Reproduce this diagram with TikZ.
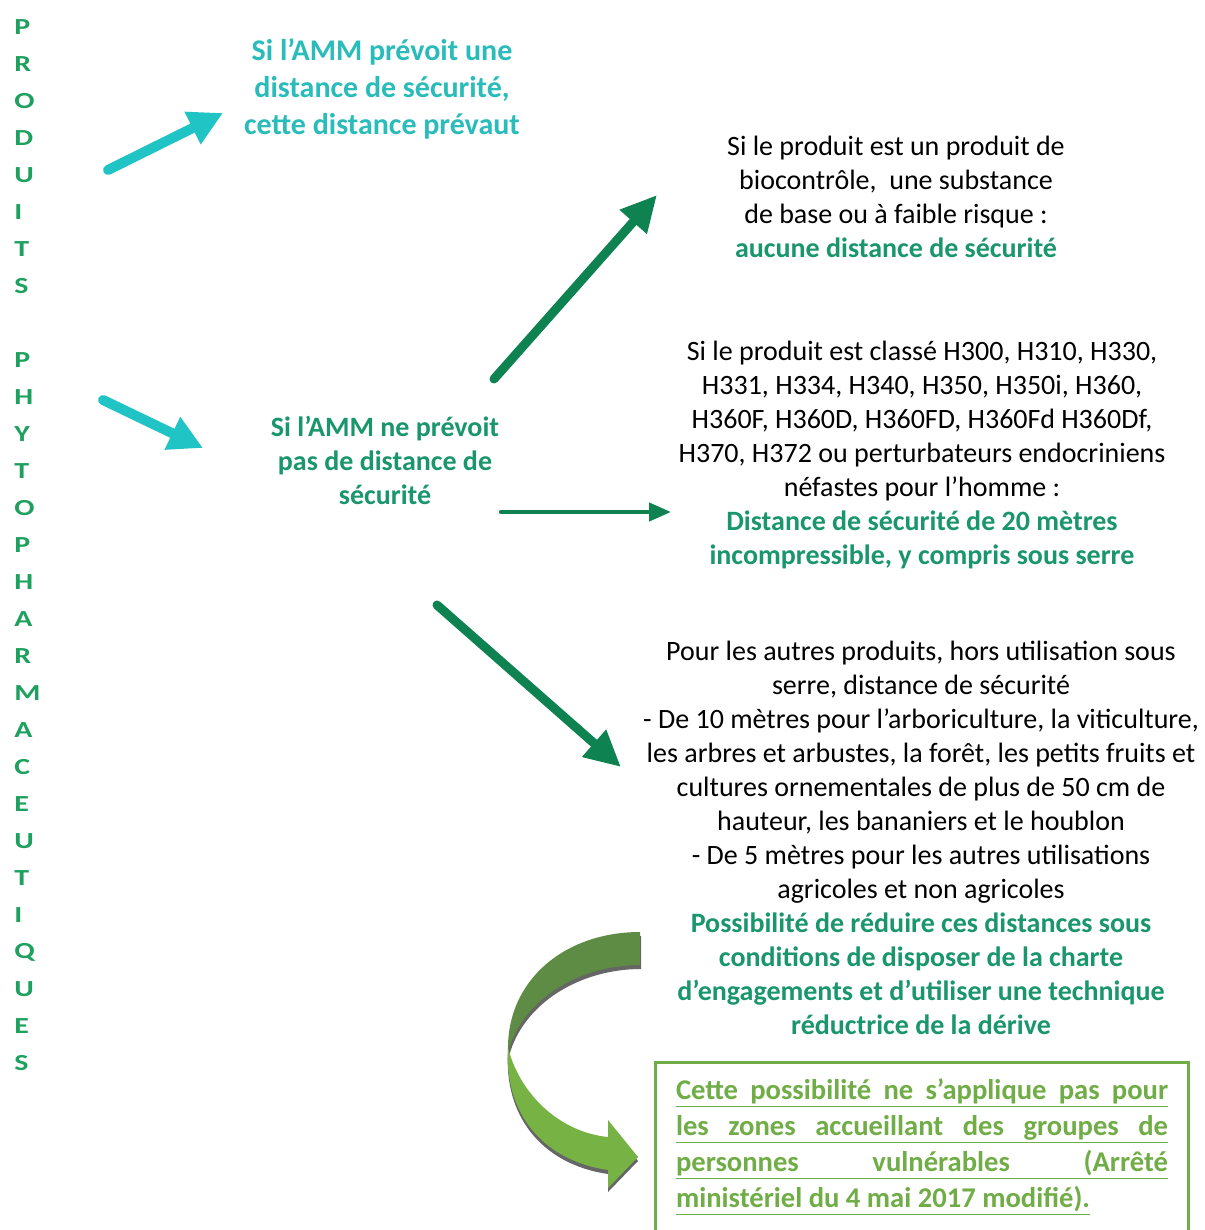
\documentclass[tikz,border=0pt]{standalone}
\usepackage{fontspec}
\setmainfont{Carlito}
\usepackage{xcolor}
\usetikzlibrary{arrows.meta,positioning}
\definecolor{phytoTeal}{RGB}{32,196,196}
\definecolor{phytoTealText}{RGB}{42,188,186}
\definecolor{phytoArrow}{RGB}{14,130,80}
\definecolor{phytoGreen}{RGB}{26,150,108}
\definecolor{phytoLetter}{RGB}{30,160,95}
\definecolor{phytoBox}{RGB}{112,173,71}
\definecolor{ribbonDark}{RGB}{94,140,68}
\definecolor{ribbonLight}{RGB}{118,178,68}
\newcommand{\VLetter}[1]{\scalebox{1.3}[1]{#1}}
\newcommand{\ULine}[1]{\leavevmode\vtop{\hbox{\raisebox{0pt}[\height][0pt]{#1}}\kern3pt\hrule height 0.9pt}}
\newcommand{\JLine}[1]{\ULine{\makebox[246pt][s]{#1}}}

\begin{document}
\begin{tikzpicture}[x=0.5pt,y=-0.5pt,
  letter/.style={anchor=west,inner sep=0pt,font=\fontsize{11.5}{12}\selectfont\bfseries,text=phytoLetter},
  plain/.style={align=center,inner sep=0pt,font=\fontsize{14}{17}\selectfont},
  tealarrow/.style={draw=phytoTeal,line width=5pt,line cap=round,-{Triangle[length=17pt,width=17pt]}},
  greenarrow/.style={draw=phytoArrow,line width=4.5pt,line cap=round,-{Triangle[length=18pt,width=17pt]}},
  thinarrow/.style={draw=phytoArrow,line width=2.2pt,line cap=round,-{Triangle[length=11pt,width=9pt]}}]
\useasboundingbox[fill=white] (0,0) rectangle (1204,1230);

\foreach \l [count=\i from 0] in {P,R,O,D,U,I,T,S}
  \node[letter] (p\i) at (14,27+37*\i) {\VLetter{\l}};
\foreach \l [count=\i from 0] in {P,H,Y,T,O,P,H,A,R,M,A,C,E,U,T,I,Q,U,E,S}
  \node[letter] (q\i) at (14,360+37*\i) {\VLetter{\l}};

\node[plain,font=\fontsize{15}{18.5}\selectfont\bfseries,text=phytoTealText] (avec) at (382,89)
  {Si l’AMM prévoit une\\ distance de sécurité,\\ cette distance prévaut};
\node[plain,font=\fontsize{14}{17}\selectfont\bfseries,text=phytoGreen] (sans) at (385,460)
  {Si l’AMM ne prévoit\\ pas de distance de\\ sécurité};

\node[plain] (bio) at (896,197)
  {Si le produit est un produit de\\ biocontrôle,\ \ une substance\\ de base ou à faible risque :\\
   {\bfseries\color{phytoGreen}aucune distance de sécurité}};
\node[plain] (classe) at (922,455)
  {Si le produit est classé H300, H310, H330,\\ H331, H334, H340, H350, H350i, H360,\\
   H360F, H360D, H360FD, H360Fd H360Df,\\ H370, H372 ou perturbateurs endocriniens\\
   néfastes pour l’homme :\\
   {\bfseries\color{phytoGreen}Distance de sécurité de 20 mètres}\\
   {\bfseries\color{phytoGreen}incompressible, y compris sous serre}};
\node[plain] (autres) at (921,838)
  {Pour les autres produits, hors utilisation sous\\ serre, distance de sécurité\\
   - De 10 mètres pour l’arboriculture, la viticulture,\\
   les arbres et arbustes, la forêt, les petits fruits et\\
   cultures ornementales de plus de 50 cm de\\ hauteur, les bananiers et le houblon\\
   - De 5 mètres pour les autres utilisations\\ agricoles et non agricoles\\
   {\bfseries\color{phytoGreen}Possibilité de réduire ces distances sous}\\
   {\bfseries\color{phytoGreen}conditions de disposer de la charte}\\
   {\bfseries\color{phytoGreen}d’engagements et d’utiliser une technique}\\
   {\bfseries\color{phytoGreen}réductrice de la dérive}};

\node[inner sep=0pt,align=left,font=\fontsize{14.3}{18}\selectfont\bfseries,text=phytoBox] (zones) at (922,1147)
  {\JLine{Cette possibilité ne s’applique pas pour}\\
   \JLine{les zones accueillant des groupes de}\\
   \JLine{personnes vulnérables (Arrêté}\\
   \ULine{ministériel du 4 mai 2017 modifié).}\hspace{68pt}};
\draw[phytoBox,line width=1.5pt] (655,1232) |- (1188,1062) -- (1188,1232);

\coordinate (t1s) at (108,170); \coordinate (t1e) at (223,113);
\coordinate (t2s) at (103,400); \coordinate (t2e) at (203,448);
\coordinate (g1s) at (494,379); \coordinate (g1e) at (657,195);
\coordinate (g2s) at (501,512); \coordinate (g2e) at (671,512);
\coordinate (g3s) at (437,605); \coordinate (g3e) at (621,767);
\draw[tealarrow] (t1s) -- (t1e);
\draw[tealarrow] (t2s) -- (t2e);
\draw[greenarrow] (g1s) -- (g1e);
\draw[thinarrow] (g2s) -- (g2e);
\draw[greenarrow] (g3s) -- (g3e);

\fill[black!60,shift={(1,4)}] (640,932) .. controls (565,932) and (506,980) .. (508,1052)
  .. controls (522,1000) and (578,965) .. (640,965) -- cycle;
\fill[black!60,shift={(0,4)}] (508,1048) .. controls (522,1100) and (565,1133) .. (608,1137)
  -- (608,1120) -- (638,1157) -- (608,1188) -- (608,1170)
  .. controls (540,1160) and (504,1110) .. (508,1048) -- cycle;
\fill[ribbonDark] (640,932) .. controls (565,932) and (506,980) .. (508,1052)
  .. controls (522,1000) and (578,965) .. (640,965) -- cycle;
\fill[ribbonLight] (508,1048) .. controls (522,1100) and (565,1133) .. (608,1137)
  -- (608,1120) -- (638,1157) -- (608,1188) -- (608,1170)
  .. controls (540,1160) and (504,1110) .. (508,1048) -- cycle;
\end{tikzpicture}
\end{document}
